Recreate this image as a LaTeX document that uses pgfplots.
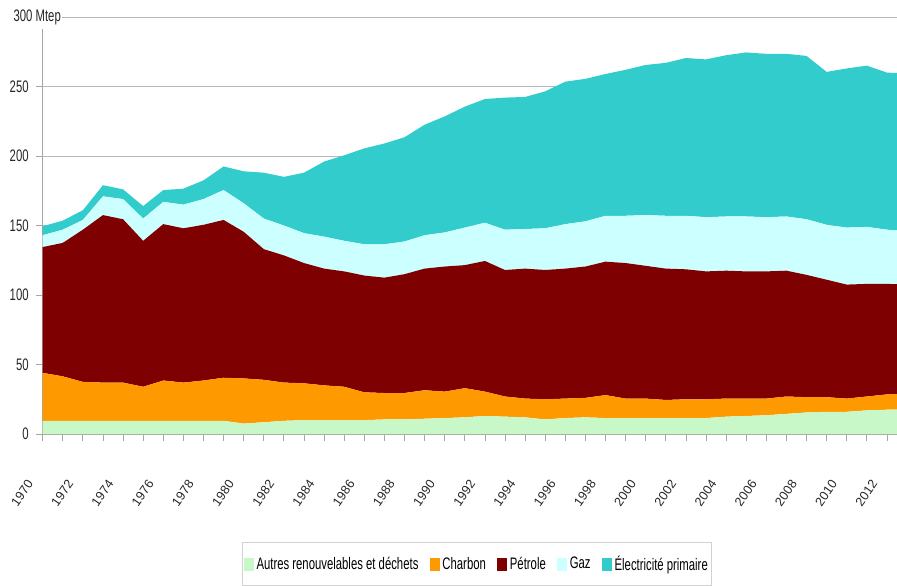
\documentclass[border=0pt]{standalone}
\usepackage{fontspec}
\setmainfont{Liberation Sans}[FakeStretch=0.68]
\newfontfamily\xfont{Liberation Sans}
\usepackage{pgfplots}
\usepackage{pgfplotstable}
\pgfplotsset{compat=1.18}

\definecolor{cAutres}{HTML}{C8F8C8}
\definecolor{cCharbon}{HTML}{FF9900}
\definecolor{cPetrole}{HTML}{7F0000}
\definecolor{cGaz}{HTML}{CCFFFF}
\definecolor{cElec}{HTML}{33CCCC}
\definecolor{axisgray}{HTML}{A6A6A6}

\pgfplotstableread{
year R C P G E
1970 9.5 34.5 90.5 8.5 6.5
1971 9.5 32 96 9.5 6.5
1972 9.5 28 109.5 7 7
1973 9.5 27.5 120.5 13.5 8
1974 9.5 27.5 117.5 14.5 7
1975 9.5 24.5 105 16 9
1976 9.5 29 112.5 16 8.5
1977 9.5 27.5 111 17 11.5
1978 9.5 29 112 18.5 13.5
1979 9.5 31 113.5 21.5 17
1980 7.5 32.5 105.5 20.5 23
1981 8.5 30.5 94 22 33
1982 9.5 27.5 91.5 21.5 35
1983 10 26.5 86.5 21.5 43.5
1984 10 25 84 23 54
1985 10 24 83 22 61.5
1986 10 20 84 22.5 69
1987 10.5 19 83 24 72.5
1988 10.5 19 85.5 23.5 75
1989 11 20.5 87.5 24 79.5
1990 11.5 19 90 24.5 83.5
1991 12 21 88.5 27 87
1992 13 17.5 94 27.5 89
1993 12.5 14.5 91 29 95
1994 12 13.5 93.5 28.5 95
1995 10.5 14.5 93 30 98.5
1996 11.5 14 93.5 32 102.5
1997 12 14 94.5 32.5 102.5
1998 11.5 16.5 96 33 102
1999 11.5 14 97.5 34 105
2000 11.5 14 95.5 36.5 108
2001 11.5 13 94.5 38 110
2002 11.5 13.5 93.5 38.5 113.5
2003 11.5 13.5 92 39 113.5
2004 12.5 13 92 39 116
2005 13 12.5 91.5 39.5 118
2006 13.5 12 91.5 39 117.5
2007 14.5 12.5 90.5 39 117
2008 15.5 11 88 40 117.5
2009 16 10.5 84.5 39.5 110
2010 16 9.5 82 41 114.5
2011 17 10 81 41 116
2012 17.5 11 79.5 39 113
2013 17.5 11.5 78.5 38.5 113.5
}\data

\begin{document}
\begin{tikzpicture}
\path[use as bounding box] (-32pt,-113.25pt) rectangle (640.7pt,325.5pt);
\begin{axis}[
  at={(0pt,0pt)}, anchor=south west,
  scale only axis, width=640.7pt, height=312.75pt,
  xmin=1970, xmax=2012.5, ymin=0, ymax=300,
  clip mode=individual,
  axis x line=bottom, axis y line=left,
  axis line style={draw=axisgray, line width=0.8pt, -},
  stack plots=y,
  xtick={1970,1972,...,2012}, minor xtick={1971,1973,...,2013},
  ytick={0,50,...,300},
  yticklabels={0,50,100,150,200,250,{}},
  tick align=outside, major tick length=5pt, minor tick length=5pt,
  tick style={draw=axisgray, line width=0.6pt},
  ymajorgrids, grid style={draw=axisgray!80, line width=0.7pt},
  /pgf/number format/assume math mode=true,
  /pgf/number format/1000 sep={},
  tick label style={font=\fontsize{12.5}{14}\selectfont, text=black!85},
  xticklabel style={font=\xfont\fontsize{9.5}{11}\selectfont, xshift=-9pt, yshift=-30pt, rotate=55, anchor=east, inner sep=0.5pt},
  yticklabel style={xshift=-2pt},
  legend style={at={(0.2333,-0.259)}, anchor=north west, legend columns=5,
    draw=gray!35, line width=0.8pt, inner xsep=1pt, inner ysep=8pt,
    font=\fontsize{12.5}{14}\selectfont,
    /tikz/every even column/.append style={column sep=6.5pt}},
  legend image code/.code={\fill[#1] (0pt,-4.8pt) rectangle (7.5pt,4.8pt);},
]
\addplot[fill=cAutres, draw=none] table[x=year,y=R]{\data} \closedcycle;
\addlegendentry{Autres renouvelables et déchets}
\addplot[fill=cCharbon, draw=none] table[x=year,y=C]{\data} \closedcycle;
\addlegendentry{Charbon}
\addplot[fill=cPetrole, draw=none] table[x=year,y=P]{\data} \closedcycle;
\addlegendentry{Pétrole}
\addplot[fill=cGaz, draw=none] table[x=year,y=G]{\data} \closedcycle;
\addlegendentry{Gaz}
\addplot[fill=cElec, draw=none] table[x=year,y=E]{\data} \closedcycle;
\addlegendentry{Électricité primaire}
\node[anchor=west, fill=white, inner xsep=1pt, inner ysep=3pt, font=\fontsize{12.5}{14}\selectfont, text=black!85]
  at (rel axis cs:0,1) [xshift=-23pt] {300 Mtep};
\end{axis}
\end{tikzpicture}
\end{document}
